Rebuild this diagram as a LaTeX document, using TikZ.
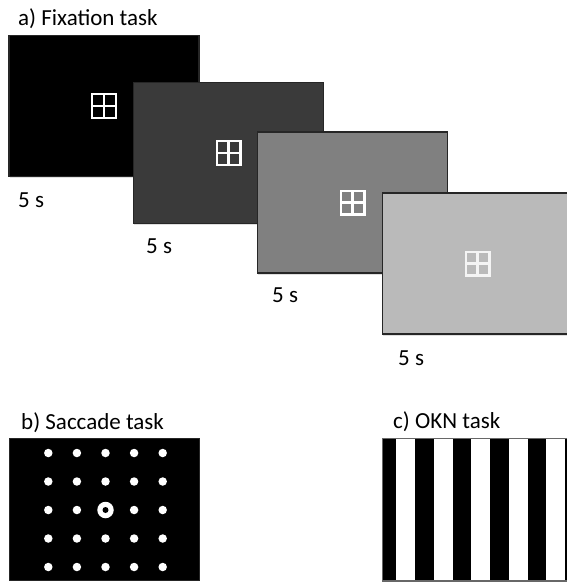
\documentclass[tikz,border=0pt]{standalone}
\usepackage{fontspec}
\setmainfont{Carlito}
\usetikzlibrary{shadows}
\definecolor{scrB}{HTML}{3A3A3A}
\definecolor{scrC}{HTML}{808080}
\definecolor{scrD}{HTML}{BABABA}
\definecolor{frame}{HTML}{262626}
\begin{document}
\begin{tikzpicture}[x=1pt,y=-1pt,
  screen/.style={rectangle, draw=frame, line width=1.3pt, inner sep=0pt,
    minimum width=190pt, minimum height=141pt,
    drop shadow={opacity=0.25, shadow xshift=0.8pt, shadow yshift=-1.6pt}},
  lbl/.style={anchor=base west, inner sep=0pt, font=\fontsize{23}{26}\selectfont, text=black},
  dot/.style={circle, fill=white, inner sep=0pt, minimum size=8.5pt},
  fixcross/.pic={\draw[white, line width=2.4pt] (-11.8,-11.8) rectangle (11.8,11.8) (0,-11.8) -- (0,11.8) (-11.8,0) -- (11.8,0);}
]
\useasboundingbox (0,0) rectangle (567,582);
\clip (0,0) rectangle (567,582);

% a) Fixation task
\node[lbl] (ta) at (18,25) {a) Fixation task};
\node[screen, fill=black] (s1) at (104,106) {};
\pic at (s1.center) {fixcross};
\node[lbl] (l1) at (18,207) {5 s};

\node[screen, fill=scrB] (s2) at (228.5,153) {};
\pic at (s2.center) {fixcross};
\node[lbl] (l2) at (146,253) {5 s};

\node[screen, fill=scrC] (s3) at (352.5,202.5) {};
\pic at (s3.center) {fixcross};
\node[lbl] (l3) at (272,302) {5 s};

\node[screen, fill=scrD] (s4) at (477.5,263.5) {};
\begin{scope}[opacity=0.85]
\pic at (s4.center) {fixcross};
\end{scope}
\node[lbl] (l4) at (398,365) {5 s};

% b) Saccade task
\node[lbl] (tb) at (21,429) {b) Saccade task};
\node[rectangle, fill=black, draw=frame, line width=1pt, inner sep=0pt,
  minimum width=190pt, minimum height=142pt] (sb) at (104,509) {};
\foreach \i in {0,...,4}{
  \foreach \j in {0,...,4}{
    \pgfmathtruncatemacro{\ctr}{(\i==2)&&(\j==2)}
    \ifnum\ctr=0
      \node[dot] (d\i\j) at ({48.3+28.6*\i},{453+28.5*\j}) {};
    \fi
  }
}
\node[circle, fill=white, inner sep=0pt, minimum size=16.5pt] (ring) at (105.5,510) {};
\node[circle, fill=black, inner sep=0pt, minimum size=6pt] (ringc) at (ring.center) {};

% c) OKN task
\node[lbl] (tc) at (393,428) {c) OKN task};
\node[rectangle, fill=white, draw=frame!70, line width=1pt, inner sep=0pt,
  minimum width=190pt, minimum height=142pt, anchor=north west] (okn) at (382,438) {};
\begin{scope}
\clip (okn.north west) rectangle (okn.south east);
\foreach \k in {-1,...,4}{
  \fill[black] ({415+37.5*\k},438) rectangle ++(18.5,142);
}
\end{scope}
\draw[frame!70, line width=0.8pt] (okn.north west) rectangle (okn.south east);
\end{tikzpicture}
\end{document}
